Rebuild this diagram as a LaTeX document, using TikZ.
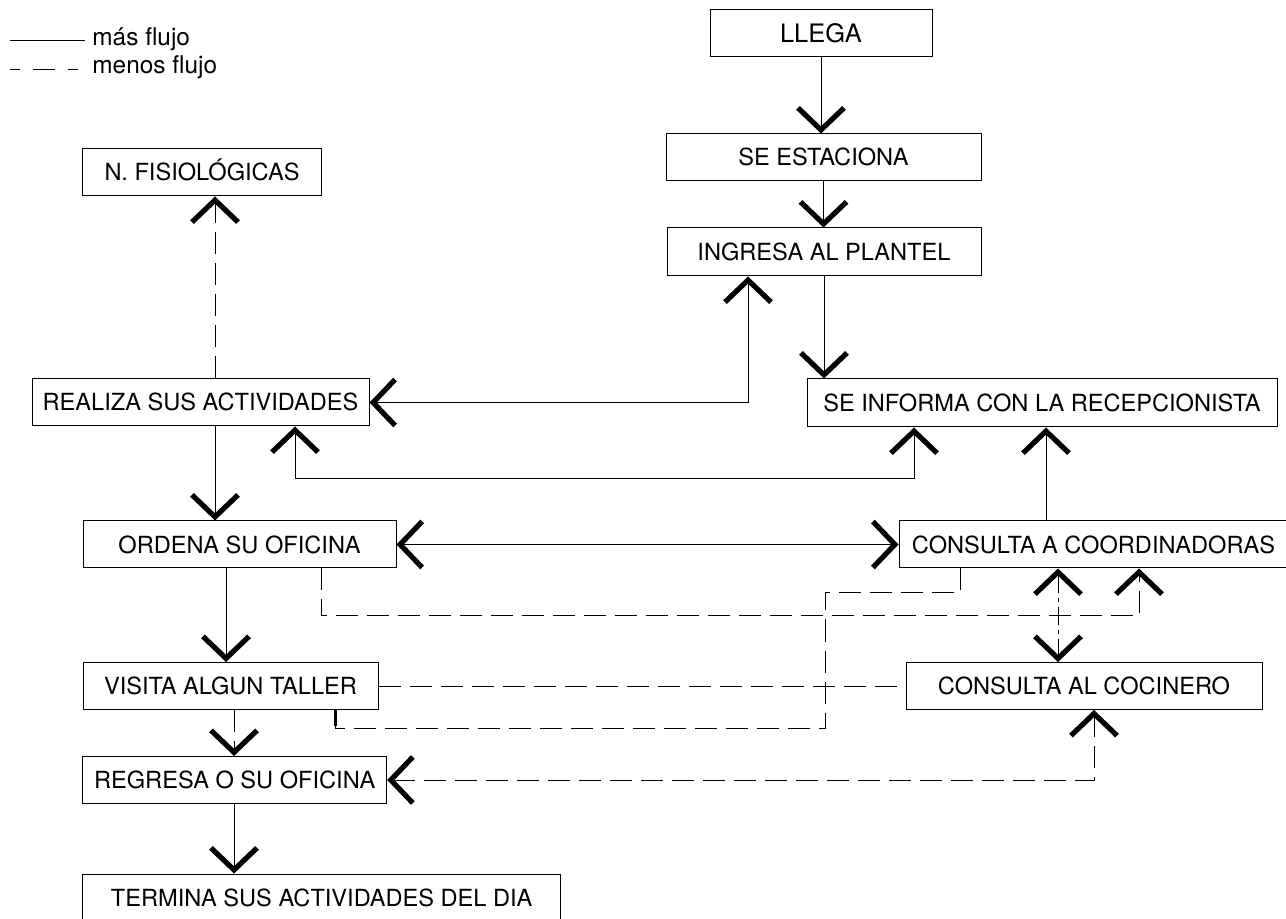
\documentclass[tikz,border=0pt]{standalone}
\usepackage{fontspec}
\setmainfont{TeX Gyre Heros}
\usetikzlibrary{arrows.meta}

\begin{document}
\begin{tikzpicture}[x=0.5pt,y=-0.5pt,
	>={Straight Barb[length=11pt,width=23pt,line width=2.6pt]},
	caja/.style={draw, line width=0.5pt, inner sep=0pt, minimum height=23.5pt,
		font=\fontsize{11.8}{14}\selectfont, text height=8.5pt, text depth=0pt},
	mas/.style={line width=0.5pt},
	menos/.style={line width=0.5pt, dash pattern=on 11pt off 4.5pt},
	mixto/.style={line width=0.5pt, dash pattern=on 9pt off 2.5pt on 2pt off 2.5pt}]
	\useasboundingbox (0,0) rectangle (1286,919);

	% leyenda
	\draw[mas] (10,41) -- (85,41);
	\draw[mas, dash pattern=on 5pt off 6.5pt on 11pt off 6.5pt] (10,70) -- (85,70);
	\node[anchor=base west, inner sep=0pt, font=\fontsize{12.2}{14}\selectfont] (masflujo) at (92,46) {más flujo};
	\node[anchor=base west, inner sep=0pt, font=\fontsize{12.2}{14}\selectfont] (menosflujo) at (92,74) {menos flujo};

	% cajas
	\node[caja, minimum width=111pt, font=\fontsize{12.7}{15}\selectfont, text height=9.1pt] (llega) at (821,33.5) {LLEGA};
	\node[caja, minimum width=157.5pt] (estaciona) at (823.5,157.5) {SE ESTACIONA};
	\node[caja, minimum width=157pt, minimum height=24pt] (ingresa) at (824,252) {INGRESA AL PLANTEL};
	\node[caja, minimum width=119.5pt] (fisio) at (202,172.5) {N. FISIOLÓGICAS};
	\node[caja, minimum width=168.5pt] (realiza) at (200.5,402.5) {REALIZA SUS ACTIVIDADES};
	\node[caja, minimum width=235pt, minimum height=24pt] (informa) at (1042,403) {SE INFORMA CON LA RECEPCIONISTA};
	\node[caja, minimum width=156.5pt] (ordena) at (239.5,544.5) {ORDENA SU OFICINA};
	\node[caja, minimum width=194.5pt] (coord) at (1093.5,544.5) {CONSULTA A COORDINADORAS};
	\node[caja, minimum width=147.5pt] (visita) at (230.5,686) {VISITA ALGUN TALLER};
	\node[caja, minimum width=178pt] (cocinero) at (1084,686) {CONSULTA AL COCINERO};
	\node[caja, minimum width=152pt] (regresa) at (234.7,780) {REGRESA O SU OFICINA};
	\node[caja, minimum width=238.75pt] (termina) at (321.7,897.5) {TERMINA SUS ACTIVIDADES DEL DIA};

	% guias
	\coordinate (xa) at (215,0);
	\coordinate (xb) at (226,0);
	\coordinate (xh) at (234,0);
	\coordinate (xs) at (295,0);
	\coordinate (xi) at (748,0);
	\coordinate (xt) at (914,0);
	\coordinate (xg) at (1046,0);
	\coordinate (xe) at (1058,0);
	\coordinate (xf) at (1094,0);
	\coordinate (yr) at (0,479);
	\coordinate (p1) at (321,616);
	\coordinate (p2) at (1139,616);
	\coordinate (q1) at (960,593);
	\coordinate (q2) at (825,593);
	\coordinate (q3) at (825,728);
	\coordinate (q4) at (335,728);

	% flujos
	\draw[mas,->] (llega.south) -- (llega.south |- estaciona.north);
	\draw[mas,->] (estaciona.south) -- (estaciona.south |- ingresa.north);
	\draw[mas,->] (ingresa.south) -- (ingresa.south |- informa.north);
	\draw[mas,<->] (realiza.east) -| (ingresa.south -| xi);
	\draw[mas,<->] (realiza.south -| xs) -- (xs |- yr) -- (xt |- yr) -- (informa.south -| xt);
	\draw[mas,->] (realiza.south -| xa) -- (ordena.north -| xa);
	\draw[menos,->] (realiza.north -| xa) -- (fisio.south -| xa);
	\draw[mas,<->] (ordena.east) -- (coord.west);
	\draw[mas,->] (coord.north -| xg) -- (informa.south -| xg);
	\draw[mas,->] (ordena.south -| xb) -- (visita.north -| xb);
	\draw[menos,->] (ordena.south -| p1) -- (p1) -- (p2) -- (coord.south -| p2);
	\draw[menos] (coord.south -| q1) -- (q1) -- (q2) -- (q3) -- (q4) -- (visita.south -| q4);
	\draw[line width=1.5pt] (visita.south -| q4) -- ([yshift=1pt]q4);
	\draw[mixto,<->] (coord.south -| xe) -- (cocinero.north -| xe);
	\draw[menos] (visita.east) -- (cocinero.west);
	\draw[menos,->] (visita.south -| xh) -- (regresa.north -| xh);
	\draw[mas,->] (regresa.south -| xh) -- (termina.north -| xh);
	\draw[menos,<->] (regresa.east) -| (cocinero.south -| xf);

\end{tikzpicture}
\end{document}
